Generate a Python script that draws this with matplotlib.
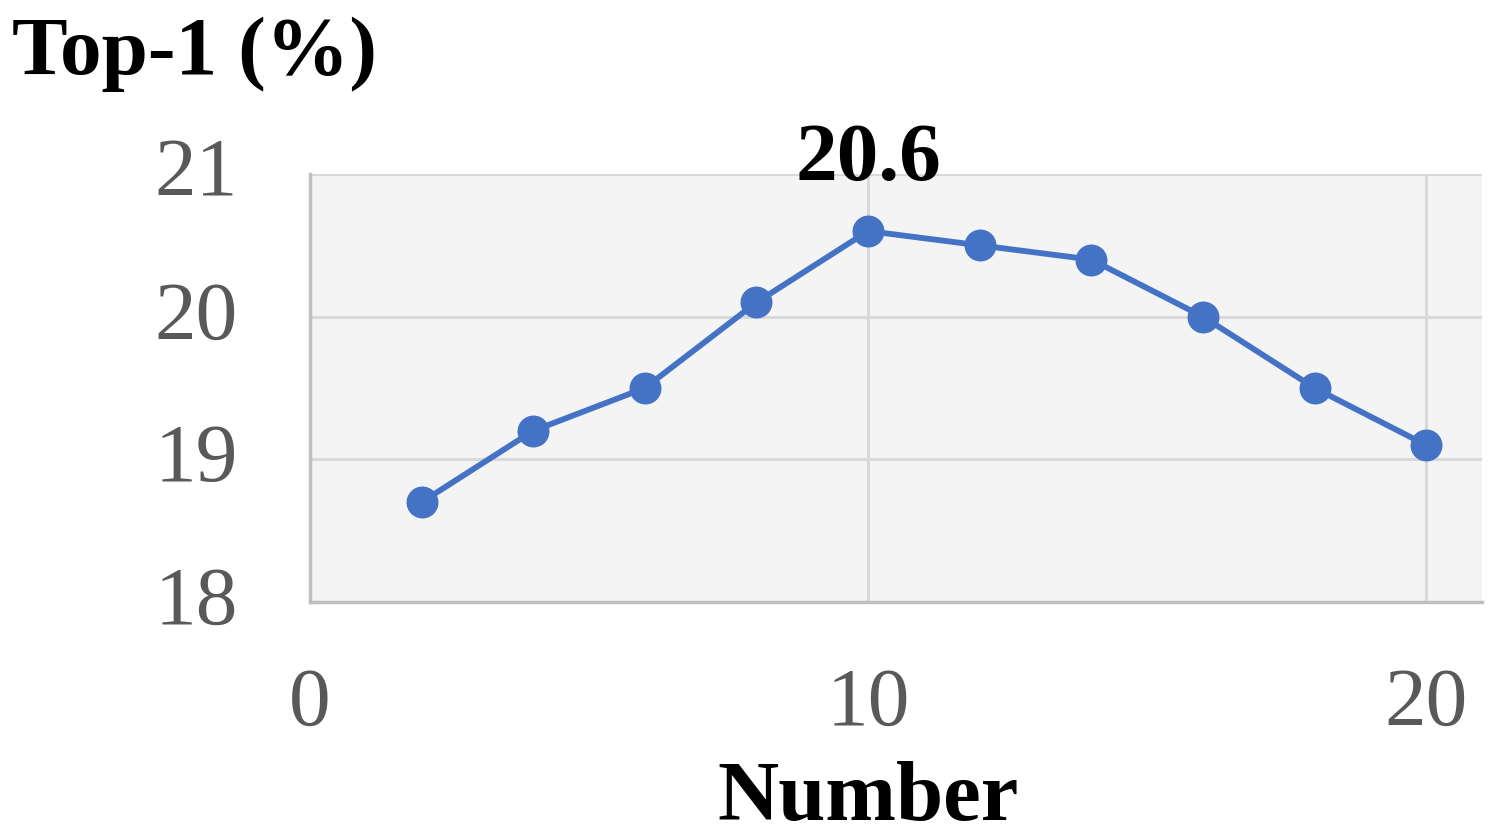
import matplotlib
matplotlib.use("Agg")
import matplotlib.pyplot as plt
from matplotlib.transforms import blended_transform_factory, ScaledTranslation

numbers = [2, 4, 6, 8, 10, 12, 14, 16, 18, 20]
top1 = [18.7, 19.2, 19.5, 20.1, 20.6, 20.5, 20.4, 20.0, 19.5, 19.1]
x_ticks = [0, 10, 20]
y_ticks = [18, 19, 20, 21]

plt.rcParams['font.family'] = ['Liberation Serif', 'DejaVu Serif']

fig = plt.figure(figsize=(14.95, 8.39), dpi=100)
ax = fig.add_axes([310/1495, 1-602/839, (1482-310)/1495, (602-174)/839])
ax.set_facecolor('#f4f4f4')
ax.set_xlim(0, 21)
ax.set_ylim(18, 21)
ax.set_xticks(x_ticks)
ax.set_yticks(y_ticks)
ax.grid(True, color='#d9d9d9', linewidth=2.2, zorder=0)
ax.set_axisbelow(True)
for s in ['top', 'right']:
    ax.spines[s].set_visible(False)
for s in ['left', 'bottom']:
    ax.spines[s].set_color('#bfbfbf')
    ax.spines[s].set_linewidth(2.5)
ax.tick_params(length=0, labelsize=60, labelcolor='#595959')
ax.tick_params(axis='x', pad=47)
ax.tick_params(axis='y', pad=52)
shift = ScaledTranslation(0, 7/100, fig.dpi_scale_trans)
for lbl in ax.get_yticklabels():
    lbl.set_transform(lbl.get_transform() + shift)

ax.plot(numbers, top1, color='#4472c4', linewidth=4.2, marker='o',
        markersize=22, zorder=3, clip_on=False)

imax = top1.index(max(top1))
ax.annotate(f"{top1[imax]:.1f}", (numbers[imax], top1[imax]),
            xytext=(0, 37), textcoords='offset points', ha='center', va='baseline',
            fontsize=60, fontweight='bold', color='black', annotation_clip=False)

trans = blended_transform_factory(ax.transData, fig.transFigure)
ax.text(10, 1-820/839, 'Number', transform=trans, fontsize=61, fontweight='bold',
        color='black', ha='center', va='baseline')
fig.text(12/1495, 1-74/839, 'Top-1 (%)', fontsize=60, fontweight='bold',
         color='black', ha='left', va='baseline')

fig.savefig('out.png', dpi=100)
